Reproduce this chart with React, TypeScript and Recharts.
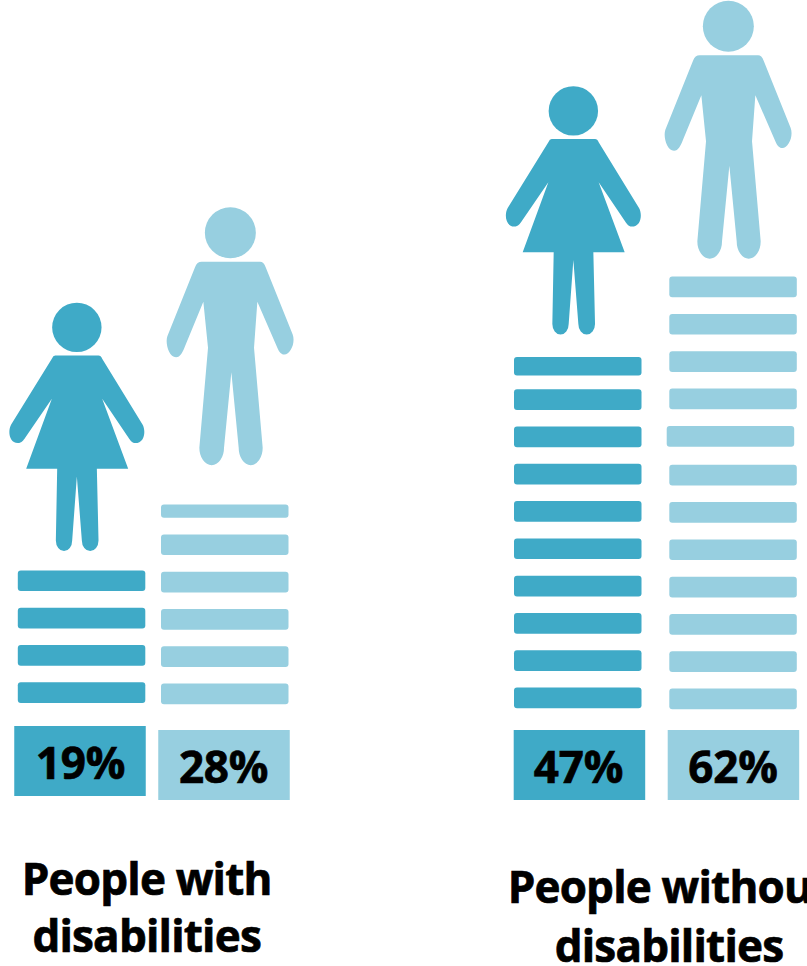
import { BarChart, Bar, XAxis, YAxis, Label } from "recharts";

// share of each group
const genders = ["Women", "Men"];
const withPercent = [19, 28];
const withoutPercent = [47, 62];
// number of stripes in each column
const withStripes = [4, 6];
const withoutStripes = [10, 12];
const withTitle = ["People with", "disabilities"];
const withoutTitle = ["People without", "disabilities"];

const DARK = "#3faac7";
const LIGHT = "#97cfe0";
const FONT = "'Open Sans', sans-serif";
const STRIPE_PITCH = 37.3;
const STRIPE_HEIGHT = 20.7;
const BASE_Y = 708.7;

const WOMAN_PATH =
  "M-65,84 L65,84 Q72,84 76,94 L197,291 C207,308 205,347 175,347 C165,347 160,338 155,331 L76,214 L154,424 L60,424 L65,639 A25 32 0 0 1 15,639 L0,447 L-14,639 A24.5 32 0 0 1 -63,639 L-59,424 L-152,424 L-75,214 L-155,331 C-160,338 -165,347 -177,347 C-205,347 -207,308 -197,291 L-75,94 Q-71,84 -65,84 Z";
const MAN_PATH =
  "M-86,87 L89,87 Q100,87 106,103 L187,305 C196,330 180,365 162,365 C150,365 144,352 139,340 L81,207 L71,345 L97,645 A36 52 0 0 1 25,645 L3,418 L-19,645 A37 52 0 0 1 -93,645 L-67,345 L-81,207 L-136,340 C-143,358 -150,373 -163,373 C-185,373 -196,330 -189,310 L-106,103 Q-100,87 -86,87 Z";

interface RowTweak {
  dx?: number;
  dy?: number;
  h?: number;
}

interface ColumnLook {
  color: string;
  baseShift: number;
  figure: "woman" | "man";
  figureDx: number;
  headAbove: number;
  boxDx: number;
  boxTop: number;
  textDx: number;
  rows: Record<number, RowTweak>;
}

const withLooks: ColumnLook[] = [
  { color: DARK, baseShift: -5.7, figure: "woman", figureDx: -4.7, headAbove: 243, boxDx: -1.4, boxTop: 17.3, textDx: -1, rows: {} },
  { color: LIGHT, baseShift: -4.4, figure: "man", figureDx: 5.6, headAbove: 271.7, boxDx: -0.6, boxTop: 21.3, textDx: -1, rows: { 5: { h: 13.3 } } },
];
const withoutLooks: ColumnLook[] = [
  { color: DARK, baseShift: -0.4, figure: "woman", figureDx: -4.4, headAbove: 246, boxDx: 1.8, boxTop: 21.3, textDx: 0.8, rows: { 9: { dy: 3, h: 18.7 } } },
  {
    color: LIGHT,
    baseShift: 0.6,
    figure: "man",
    figureDx: -4.7,
    headAbove: 250.3,
    boxDx: 0.5,
    boxTop: 21.3,
    textDx: 0,
    rows: {
      7: { dx: -2.6, dy: -1.5 },
      8: { dy: -1.7 },
      9: { dy: -1.7 },
      10: { dy: -1.7 },
      11: { dy: -1.7 },
    },
  },
];

function StripedColumn(props: any) {
  const { x, width, stripes, look } = props;
  const l = look[props.index] as ColumnLook;
  const bottom = BASE_Y + l.baseShift;
  let top = bottom;
  const rows = Array.from({ length: stripes }, (_, i) => {
    const t = l.rows[i] ?? {};
    const h = t.h ?? STRIPE_HEIGHT;
    const rowBottom = bottom - i * STRIPE_PITCH + (t.dy ?? 0);
    top = rowBottom - h;
    return (
      <rect
        key={i}
        x={x + (t.dx ?? 0)}
        y={top}
        width={width}
        height={h}
        rx={3}
        fill={l.color}
      />
    );
  });
  const hx = x + width / 2 + l.figureDx;
  const hy = top - l.headAbove;
  const isWoman = l.figure === "woman";
  return (
    <g>
      {rows}
      <circle cx={hx} cy={hy} r={isWoman ? 24.7 : 25.5} fill={l.color} />
      <path
        transform={`translate(${hx},${hy}) scale(${1 / 3})`}
        d={isWoman ? WOMAN_PATH : MAN_PATH}
        fill={l.color}
      />
    </g>
  );
}

function PercentBox(props: any) {
  const { x, y, payload, index, look } = props;
  const l = look[index] as ColumnLook;
  const boxW = 131.5;
  const cx = x + l.boxDx;
  return (
    <g>
      <rect x={cx - boxW / 2} y={y + l.boxTop} width={boxW} height={70} fill={l.color} />
      <text
        x={x + l.textDx}
        y={y + l.boxTop + 53}
        textAnchor="middle"
        fontFamily={FONT}
        fontWeight={700}
        fontSize={44}
        letterSpacing={-0.2}
        stroke="#000"
        strokeWidth={0.7}
        fill="#000"
      >
        {payload.value}
      </text>
    </g>
  );
}

function GroupTitle(props: any) {
  const { viewBox, lines, centerX, firstBase, secondBase, left } = props;
  const y = viewBox.y;
  return (
    <g>
      {lines.map((line: string, i: number) => (
        <text
          key={line}
          x={centerX - left}
          y={y + (i === 0 ? firstBase : secondBase)}
          textAnchor="middle"
          fontFamily={FONT}
          fontWeight={700}
          fontSize={44}
          letterSpacing={-0.8}
          stroke="#000"
          strokeWidth={0.7}
          fill="#000"
        >
          {line}
        </text>
      ))}
    </g>
  );
}

interface PanelProps {
  left: number;
  width: number;
  marginLeft: number;
  marginRight: number;
  percents: number[];
  stripes: number[];
  looks: ColumnLook[];
  title: string[];
  titleCenter: number;
  firstBase: number;
  secondBase: number;
}

function Panel(p: PanelProps) {
  const data = genders.map((gender, i) => ({
    gender,
    stripes: p.stripes[i],
    percent: `${p.percents[i]}%`,
  }));
  return (
    <div style={{ position: "absolute", left: p.left, top: 0 }}>
      <BarChart
        width={p.width}
        height={966}
        data={data}
        margin={{ top: 0, bottom: 0, left: p.marginLeft, right: p.marginRight }}
      >
        <XAxis
          dataKey="percent"
          height={966 - BASE_Y}
          axisLine={false}
          tickLine={false}
          tickSize={0}
          tickMargin={0}
          interval={0}
          tick={<PercentBox look={p.looks} />}
        >
          <Label
            content={
              <GroupTitle
                lines={p.title}
                centerX={p.titleCenter}
                left={p.left}
                firstBase={p.firstBase}
                secondBase={p.secondBase}
              />
            }
          />
        </XAxis>
        <YAxis hide domain={[0, 19]} />
        <Bar
          dataKey="stripes"
          barSize={127.5}
          isAnimationActive={false}
          shape={(props: any) => (
            <StripedColumn {...props} stripes={props.payload.stripes} look={p.looks} />
          )}
        />
      </BarChart>
    </div>
  );
}

export default function App() {
  return (
    <div
      style={{
        position: "absolute",
        left: 0,
        top: 0,
        width: 807,
        height: 966,
        overflow: "hidden",
        background: "#fff",
      }}
    >
      <Panel
        left={0}
        width={320}
        marginLeft={9.8}
        marginRight={23.8}
        percents={withPercent}
        stripes={withStripes}
        looks={withLooks}
        title={withTitle}
        titleCenter={146.7}
        firstBase={186.3}
        secondBase={243}
      />
      <Panel
        left={490}
        width={345}
        marginLeft={10}
        marginRight={24.4}
        percents={withoutPercent}
        stripes={withoutStripes}
        looks={withoutLooks}
        title={withoutTitle}
        titleCenter={669}
        firstBase={194}
        secondBase={253}
      />
    </div>
  );
}
